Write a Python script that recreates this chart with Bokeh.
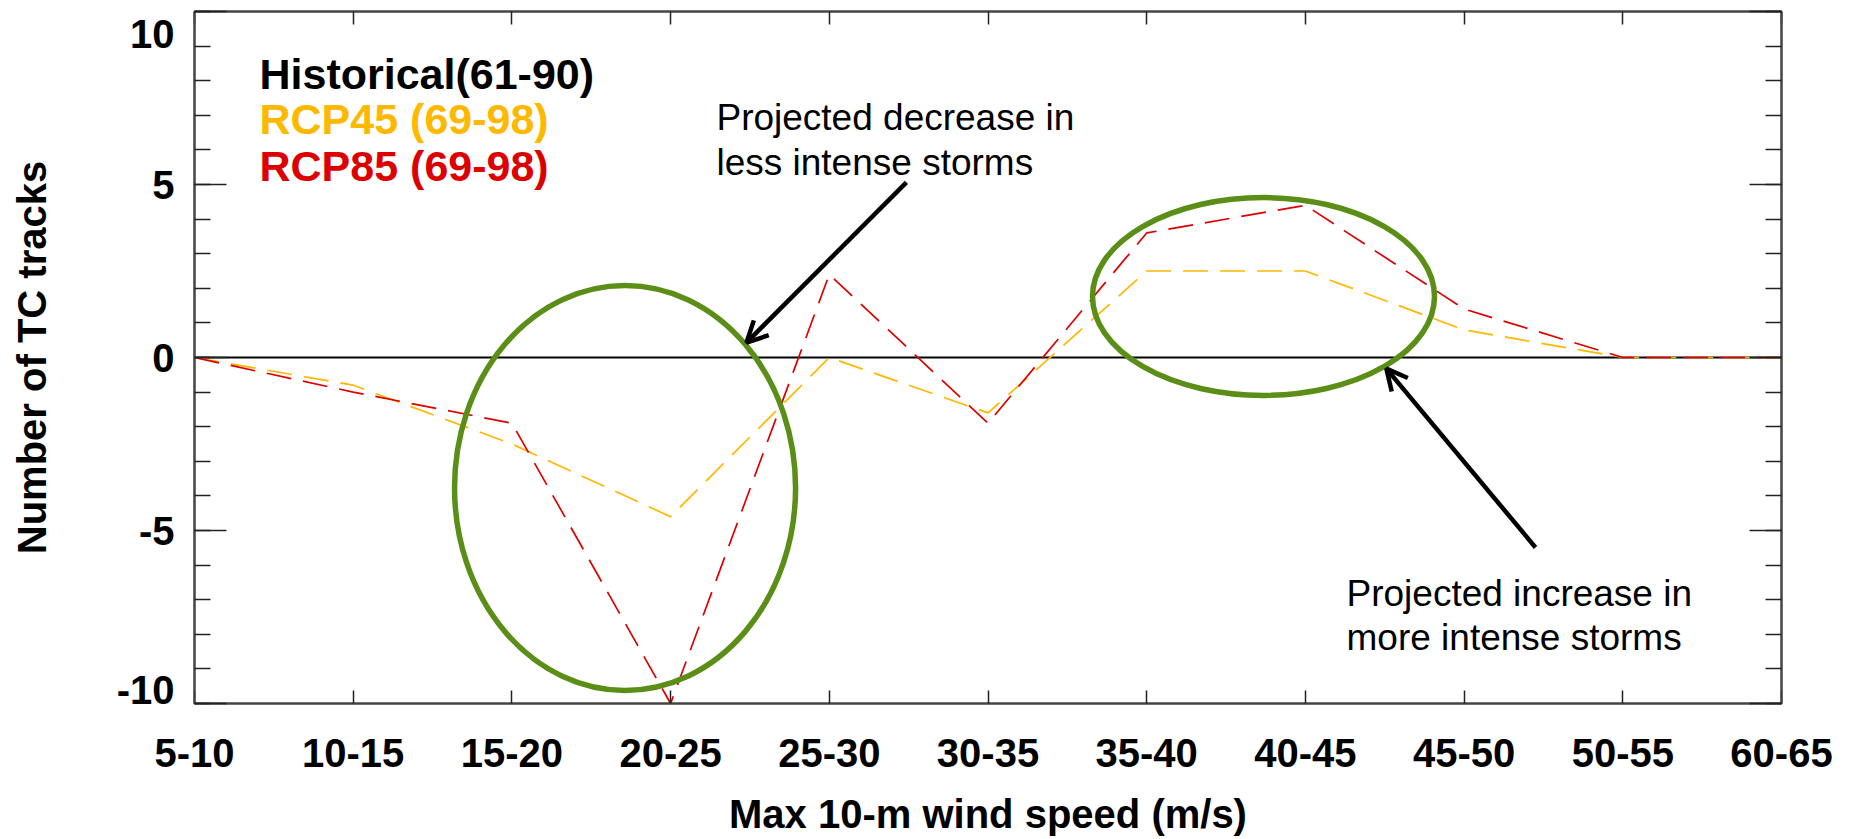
from bokeh.plotting import figure
from bokeh.models import (Range1d, FixedTicker, LinearAxis, Label, Arrow, OpenHead,
                          CustomJSTickFormatter)
from bokeh.embed import file_html
from bokeh.resources import INLINE

# ---------------- data ----------------
categories = ["5-10", "10-15", "15-20", "20-25", "25-30", "30-35",
              "35-40", "40-45", "45-50", "50-55", "60-65"]
historical = [0, 0, 0, 0, 0, 0, 0, 0, 0, 0, 0]
rcp45 = [0, -0.8, -2.5, -4.6, 0.0, -1.6, 2.5, 2.5, 0.8, 0, 0]
rcp85 = [0, -1.0, -1.9, -10.0, 2.4, -1.9, 3.6, 4.4, 1.4, 0, 0]
y_ticks = [-10, -5, 0, 5, 10]
y_minor_ticks = list(range(-10, 11))
y_tick_labels = ["-10", "-5", "0", "5", "10"]
series_names = ["Historical(61-90)", "RCP45 (69-98)", "RCP85 (69-98)"]
series_colors = ["#000000", "#FFB800", "#DD0000"]

x_idx = list(range(len(categories)))

FONT = "Liberation Sans"
GREEN = "#5B8E17"
AXIS_COL = "#444444"

p = figure(width=1856, height=839,
           x_range=Range1d(0, len(categories) - 1), y_range=Range1d(-10, 10),
           toolbar_location=None, output_backend="svg",
           min_border_left=194, min_border_right=75,
           min_border_top=11, min_border_bottom=136)
p.grid.visible = False
p.outline_line_color = AXIS_COL
p.outline_line_width = 2
p.background_fill_color = "white"
p.border_fill_color = "white"

empty_fmt = CustomJSTickFormatter(code="return ''")

# bottom axis
xa = p.xaxis[0]
xa.ticker = FixedTicker(ticks=x_idx)
xa.major_label_overrides = {i: c for i, c in enumerate(categories)}
xa.major_tick_in = 13
xa.major_tick_out = 0
xa.minor_tick_line_color = None
xa.axis_line_color = AXIS_COL
xa.axis_line_width = 2
xa.major_tick_line_color = "#222222"
xa.major_tick_line_width = 1.5
xa.major_label_text_font = FONT
xa.major_label_text_font_style = "bold"
xa.major_label_text_font_size = "40px"
xa.major_label_text_color = "black"
xa.major_label_standoff = 35
xa.axis_label = "Max 10-m wind speed (m/s)"
xa.axis_label_text_font = FONT
xa.axis_label_text_font_style = "bold"
xa.axis_label_text_font_size = "40px"
xa.axis_label_text_color = "black"
xa.axis_label_standoff = 22

# left axis (tick marks only, next to the frame)
ya = p.yaxis[0]
ya.ticker = FixedTicker(ticks=y_ticks, minor_ticks=y_minor_ticks)
ya.formatter = empty_fmt
ya.major_tick_in = 32
ya.major_tick_out = 0
ya.minor_tick_in = 16
ya.minor_tick_out = 0
ya.axis_line_color = AXIS_COL
ya.axis_line_width = 2
ya.major_tick_line_color = "#222222"
ya.major_tick_line_width = 1.5
ya.minor_tick_line_color = "#222222"
ya.minor_tick_line_width = 1.5
ya.major_label_standoff = 0
ya.major_label_text_font_size = "0px"

# outer left axis: tick labels (end labels pulled inside, IDL style) + title
label_pos = [-9.62, -5, 0, 5, 9.36]
ylab = LinearAxis(ticker=FixedTicker(ticks=label_pos),
                  major_label_overrides={pos: t for pos, t in zip(label_pos, y_tick_labels)},
                  major_tick_in=0, major_tick_out=0, minor_tick_line_color=None,
                  major_tick_line_color=None, axis_line_color=None,
                  major_label_standoff=20,
                  major_label_text_font=FONT, major_label_text_font_style="bold",
                  major_label_text_font_size="40px", major_label_text_color="black",
                  axis_label="Number of TC tracks", axis_label_text_font=FONT,
                  axis_label_text_font_style="bold", axis_label_text_font_size="40px",
                  axis_label_text_color="black", axis_label_standoff=60)
p.add_layout(ylab, "left")

# top axis
top = LinearAxis(ticker=FixedTicker(ticks=x_idx), formatter=empty_fmt,
                 major_tick_in=13, major_tick_out=0, minor_tick_line_color=None,
                 major_label_standoff=0, major_label_text_font_size="0px",
                 axis_line_color=AXIS_COL, axis_line_width=2,
                 major_tick_line_color="#222222", major_tick_line_width=1.5)
p.add_layout(top, "above")

# right axis
right = LinearAxis(ticker=FixedTicker(ticks=y_ticks, minor_ticks=y_minor_ticks),
                   formatter=empty_fmt, major_tick_in=32, major_tick_out=0,
                   minor_tick_in=16, minor_tick_out=0,
                   major_label_standoff=0, major_label_text_font_size="0px",
                   axis_line_color=AXIS_COL, axis_line_width=2,
                   major_tick_line_color="#222222", major_tick_line_width=1.5,
                   minor_tick_line_color="#222222", minor_tick_line_width=1.5)
p.add_layout(right, "right")

# series
p.line(x_idx, historical, line_color=series_colors[0], line_width=2)
p.line(x_idx, rcp45, line_color=series_colors[1], line_width=1.7, line_dash="25 12")
p.line(x_idx, rcp85, line_color=series_colors[2], line_width=1.7, line_dash="25 12")

# legend (coloured text only)
for name, col, yb in zip(series_names, series_colors, [630, 585, 538]):
    p.add_layout(Label(x=65, x_units="screen", y=yb, y_units="screen", text=name,
                       text_align="left", text_baseline="alphabetic",
                       text_font=FONT, text_font_style="bold",
                       text_font_size="43px", text_color=col))

# highlight ellipses
p.ellipse(x=[2.713], y=[-3.77], width=2.149, height=11.71,
          fill_color=None, line_color=GREEN, line_width=5.5)
p.ellipse(x=[6.736], y=[1.763], width=2.155, height=5.72,
          fill_color=None, line_color=GREEN, line_width=5.5)

# arrows
p.add_layout(Arrow(x_start=4.486, y_start=5.06, x_end=3.478, y_end=0.43,
                   line_width=4.5, line_color="black",
                   end=OpenHead(size=21, line_width=4.5, line_color="black")))
p.add_layout(Arrow(x_start=8.45, y_start=-5.49, x_end=7.51, y_end=-0.32,
                   line_width=4.5, line_color="black",
                   end=OpenHead(size=21, line_width=4.5, line_color="black")))

# annotation texts
for txt, xx, yy in [("Projected decrease in", 3.289, 6.94),
                    ("less intense storms", 3.289, 5.64),
                    ("Projected increase in", 7.259, -6.82),
                    ("more intense storms", 7.259, -8.09)]:
    p.add_layout(Label(x=xx, y=yy, text=txt, text_align="left",
                       text_baseline="alphabetic", text_font=FONT,
                       text_font_size="37px", text_color="black"))

open("out.html", "w").write(file_html(p, INLINE))
